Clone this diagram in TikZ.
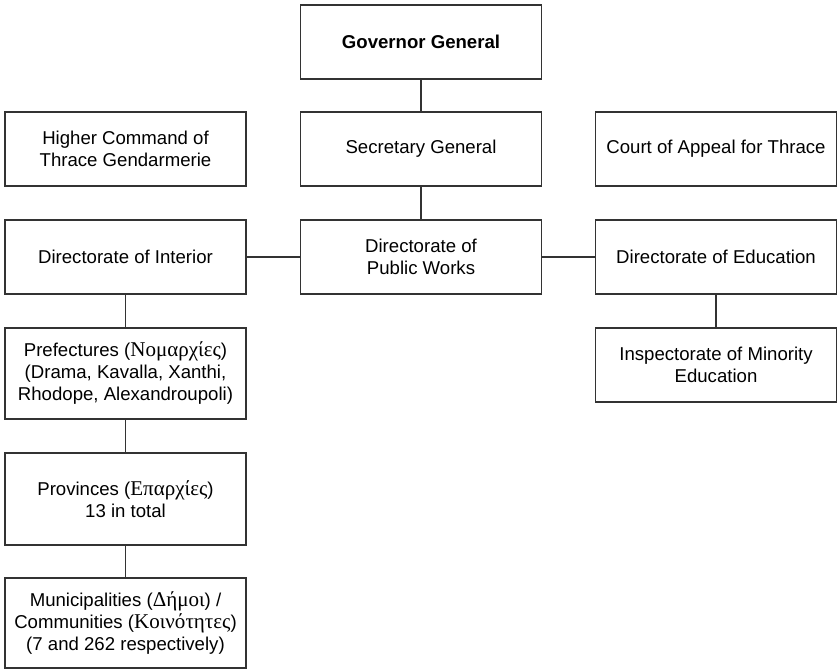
\documentclass[tikz,border=0pt]{standalone}
\usepackage{fontspec}
\setmainfont{Liberation Sans}
\newfontfamily\gr[Scale=1.13]{Liberation Serif}
\begin{document}
\begin{tikzpicture}[x=1pt,y=1pt,
  box/.style={draw=black!80, line width=1.3pt, minimum width=241pt, minimum height=74pt, inner sep=0pt, align=center, font=\fontsize{18.6}{22}\selectfont},
  link/.style={draw=black!80, line width=1.3pt}]
\useasboundingbox (0,0) rectangle (837,670);
\node[box] (gov) at (421,628) {\textbf{Governor General}};
\node[box] (sec) at (421,521) {Secretary General};
\node[box] (hc) at (125.5,521) {Higher Command of\\Thrace Gendarmerie};
\node[box] (ca) at (716,521) {Court of Appeal for Thrace};
\node[box] (int) at (125.5,413) {Directorate of Interior};
\node[box] (pw) at (421,413) {Directorate of\\Public Works};
\node[box] (edu) at (716,413) {Directorate of Education};
\node[box, minimum height=91pt] (pref) at (125.5,296.5) {Prefectures ({\gr Νομαρχίες})\\(Drama, Kavalla, Xanthi,\\Rhodope, Alexandroupoli)};
\node[box] (insp) at (716,305) {Inspectorate of Minority\\Education};
\node[box, minimum height=92pt] (prov) at (125.5,171) {Provinces ({\gr Επαρχίες})\\13 in total};
\node[box, minimum height=90pt] (mun) at (125.5,47) {Municipalities ({\gr Δήμοι}) /\\Communities ({\gr Κοινότητες})\\(7 and 262 respectively)};
\draw[link] (gov.south) -- (sec.north);
\draw[link] (sec.south) -- (pw.north);
\draw[link] (int.east) -- (pw.west);
\draw[link] (pw.east) -- (edu.west);
\draw[link] (int.south) -- (pref.north);
\draw[link] (pref.south) -- (prov.north);
\draw[link] (prov.south) -- (mun.north);
\draw[link] (edu.south) -- (insp.north);
\end{tikzpicture}
\end{document}
